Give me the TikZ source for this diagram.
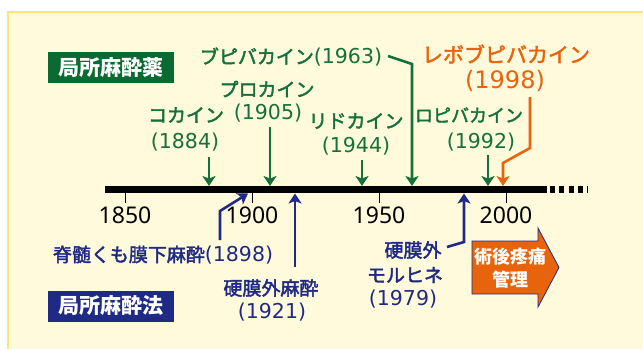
\documentclass[tikz,border=0pt]{standalone}
\usepackage{fontspec}
\usetikzlibrary{arrows.meta}
\newfontfamily\jp{Noto Sans CJK JP}[FakeBold=2.2]
\newfontfamily\jpbold{Noto Sans CJK JP}
\newfontfamily\numf{DejaVu Sans}
\newfontfamily\tickf{Noto Sans}
\definecolor{gtext}{HTML}{15703A}
\definecolor{gbox}{HTML}{0B6A31}
\definecolor{navy}{HTML}{1F2A85}
\definecolor{orng}{HTML}{E8640C}
\definecolor{bgfill}{HTML}{FFFADC}
\definecolor{bgline}{HTML}{FFE27E}
\newcommand{\yr}[2][20.5]{{\numf\fontsize{#1}{#1}\selectfont(#2)}}
\tikzset{
  every node/.style={inner sep=0pt},
  gtxt/.style={text=gtext, font=\jp\fontsize{19}{22}\selectfont},
  btxt/.style={text=navy, font=\jp\fontsize{19}{22}\selectfont},
  otxt/.style={text=orng, font=\jp\fontsize{21}{24}\selectfont},
  ticklab/.style={font=\tickf\fontsize{23}{24}\selectfont},
  labbox/.style={text=white, font=\jpbold\bfseries\fontsize{21}{24}\selectfont, minimum width=126pt, minimum height=31pt},
  tip/.style={-{Stealth[length=10pt,width=13pt,inset=2.5pt]}},
  garrow/.style={tip, draw=gtext, line width=2.6pt},
  oarrow/.style={tip, draw=orng, line width=2.6pt},
  barrow/.style={tip, draw=navy, line width=2.6pt},
  tickmark/.style={draw=black, line width=1pt},
}
\begin{document}
\begin{tikzpicture}[x=1pt,y=-1pt]
\useasboundingbox (0,0) rectangle (643,349);
% background
\fill[bgfill] (8,12) rectangle (643,349);
\draw[bgline, line width=2pt] (643,12) -- (8,12) -- (8,349);

% timeline bar
\node[fill=black, minimum width=442pt, minimum height=7pt, anchor=west] (bar) at (105,189.5) {};
\coordinate (dashA) at (550,189.5);
\coordinate (dashB) at (588,189.5);
\draw[line width=7pt, dash pattern=on 5pt off 4.3pt] (dashA) -- (dashB);

% ticks
\foreach \x/\y in {125/1850,252/1900,379/1950,506/2000}{
  \coordinate (tk\y) at (\x,193);
  \draw[tickmark] (tk\y) -- ++(0,10);
  \node[ticklab] (lab\y) at (\x,215) {\y};
}

% category labels
\node[labbox, fill=gbox] (drugs) at (111,67.5) {局所麻酔薬};
\node[labbox, fill=navy] (methods) at (111,306) {局所麻酔法};

% green drug labels
\node[gtxt] (coka) at (186,115) {コカイン};
\node[gtxt] (cokay) at (185,142) {\yr{1884}};
\node[gtxt] (pro) at (267,89) {プロカイン};
\node[gtxt] (proy) at (268,113) {\yr{1905}};
\node[gtxt] (bupi) at (291,57) {ブピバカイン\yr{1963}};
\node[gtxt] (lido) at (356,121) {リドカイン};
\node[gtxt] (lidoy) at (356,146) {\yr{1944}};
\node[gtxt, font=\jp\fontsize{18}{22}\selectfont] (ropi) at (469,115) {ロピバカイン};
\node[gtxt] (ropiy) at (481,142) {\yr{1992}};
\node[otxt] (levo) at (506,54) {レボブピバカイン};
\node[otxt] (levoy) at (505,81) {\yr[24]{1998}};

% green arrows
\coordinate (c1s) at (209,157); \coordinate (c1e) at (209,186);
\coordinate (c2s) at (270,127); \coordinate (c2e) at (270,186);
\coordinate (c3s) at (362,160); \coordinate (c3e) at (362,186);
\coordinate (c4s) at (388,56);  \coordinate (c4m) at (412,64); \coordinate (c4e) at (412,186);
\coordinate (c5s) at (488,155); \coordinate (c5e) at (488,186);
\draw[garrow] (c1s) -- (c1e);
\draw[garrow] (c2s) -- (c2e);
\draw[garrow] (c3s) -- (c3e);
\draw[garrow] (c4s) -- (c4m) -- (c4e);
\draw[garrow] (c5s) -- (c5e);
% orange arrow
\coordinate (o1) at (530,97); \coordinate (o2) at (530,148);
\coordinate (o3) at (503,163); \coordinate (o4) at (503,186);
\draw[oarrow] (o1) -- (o2) -- (o3) -- (o4);

% blue method labels
\node[btxt] (spinal) at (163,255) {脊髄くも膜下麻酔\yr{1898}};
\node[btxt] (epi) at (271,288) {硬膜外麻酔};
\node[btxt] (epiy) at (272,312) {\yr{1921}};
\node[btxt] (mor1) at (413,250) {硬膜外};
\node[btxt] (mor2) at (405,275) {モルヒネ};
\node[btxt] (mor3) at (403,299) {\yr{1979}};

% blue arrows
\coordinate (b1s) at (220,240); \coordinate (b1m) at (220,211); \coordinate (b1e) at (248,193.5);
\coordinate (b2s) at (295,267); \coordinate (b2e) at (295,193.5);
\coordinate (b3s) at (447,247); \coordinate (b3m) at (464,242); \coordinate (b3e) at (464,193.5);
\draw[barrow] (b1s) -- (b1m) -- (b1e);
\draw[barrow] (b2s) -- (b2e);
\draw[barrow] (b3s) -- (b3m) -- (b3e);

% post-operative pain management arrow
\draw[fill=orng, draw=navy, line width=0.8pt] (472,241) -- (538,241) -- (538,228) -- (559,267.5) -- (538,307) -- (538,294) -- (472,294) -- cycle;
\node[text=white, font=\jpbold\bfseries\fontsize{18}{23}\selectfont, align=center] (pain) at (510,268.5) {術後疼痛\\管理};
\end{tikzpicture}
\end{document}
